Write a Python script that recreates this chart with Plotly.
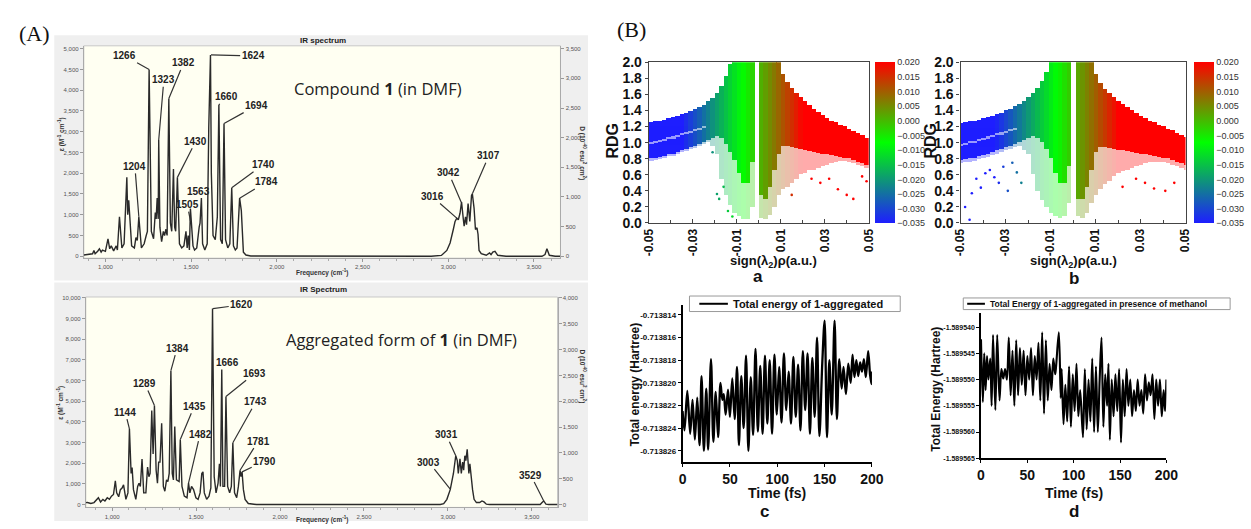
import plotly.graph_objects as go

W, H = 1251, 529
def px(x): return x / W
def py(y): return 1 - y / H

# ---------------- DATA ----------------
# IR spectrum of compound 1: (frequency cm-1, epsilon)
IR1_POINTS = [(874, 30), (900, 40), (925, 60), (933, 140), (940, 60), (955, 120), (965, 180), (975, 100),
    (983, 150), (1000, 120), (1015, 420), (1025, 180), (1034, 250), (1048, 130), (1063, 250), (1070, 150),
    (1082, 950), (1096, 200), (1109, 300), (1125, 1900), (1130, 1000), (1136, 1350), (1143, 950), (1153, 250),
    (1169, 200), (1178, 450), (1186, 380), (1195, 950), (1210, 200), (1226, 300), (1238, 500), (1245, 600),
    (1255, 4500), (1268, 600), (1281, 420), (1291, 1050), (1296, 900), (1302, 1400), (1308, 900), (1311, 2800),
    (1318, 700), (1328, 350), (1338, 600), (1345, 500), (1353, 650), (1360, 500), (1370, 3800), (1379, 800),
    (1387, 600), (1397, 2100), (1404, 700), (1410, 600), (1420, 1900), (1432, 300), (1445, 200), (1458, 250),
    (1470, 600), (1477, 200), (1483, 500), (1490, 150), (1496, 1150), (1504, 500), (1511, 250), (1520, 150),
    (1533, 200), (1547, 700), (1552, 800), (1560, 1400), (1567, 300), (1580, 150), (1594, 300), (1603, 3100),
    (1607, 3750), (1613, 4850), (1618, 2000), (1628, 500), (1641, 400), (1653, 950), (1662, 3650), (1672, 400),
    (1682, 300), (1692, 3200), (1701, 400), (1714, 200), (1726, 300), (1737, 1650), (1747, 250), (1758, 150),
    (1768, 200), (1783, 1400), (1793, 1100), (1805, 100), (1820, 30), (1848, 5), (2900, 0), (2960, 20),
    (2992, 140), (3011, 320), (3030, 650), (3040, 840), (3050, 919), (3059, 880), (3069, 1036), (3078, 1308),
    (3088, 900), (3093, 724), (3101, 950), (3107, 763), (3116, 1270), (3126, 841), (3136, 1464), (3141, 1503),
    (3151, 1152), (3159, 646), (3168, 685), (3174, 530), (3180, 140), (3193, 62), (3222, 23), (3241, 78),
    (3250, 40), (3260, 101), (3273, 120), (3289, 23), (3337, 0), (3547, 0), (3565, 40), (3576, 179),
    (3590, 23), (3624, 0), (3655, 0)]

# IR spectrum of aggregated form of 1
IR2_POINTS = [(843, 90), (853, 94), (873, 50), (892, 94), (918, 329), (931, 125), (945, 250), (957, 172),
    (971, 329), (984, 250), (996, 407), (1008, 485), (1019, 1150), (1027, 563), (1039, 376), (1049, 720),
    (1059, 798), (1068, 955), (1082, 250), (1094, 563), (1103, 3662), (1113, 1502), (1119, 1784), (1127, 720),
    (1141, 250), (1152, 876), (1160, 1033), (1168, 876), (1178, 2207), (1188, 563), (1201, 563), (1211, 1815),
    (1219, 1346), (1226, 1502), (1236, 4554), (1244, 2441), (1252, 4789), (1262, 1659), (1270, 1033),
    (1277, 2050), (1285, 2050), (1295, 3929), (1305, 876), (1314, 641), (1324, 1189), (1332, 1110),
    (1340, 1502), (1350, 6479), (1358, 1502), (1365, 1189), (1373, 3771), (1383, 1189), (1399, 1110),
    (1406, 3146), (1416, 876), (1430, 407), (1446, 329), (1455, 1033), (1463, 563), (1473, 876), (1485, 720),
    (1499, 329), (1512, 250), (1524, 563), (1534, 1502), (1541, 1580), (1549, 563), (1563, 250), (1577, 407),
    (1588, 798), (1598, 9484), (1608, 1346), (1619, 563), (1631, 1033), (1639, 1971), (1645, 876),
    (1653, 6542), (1660, 876), (1670, 876), (1678, 5227), (1688, 876), (1700, 563), (1710, 876), (1719, 2989),
    (1729, 563), (1742, 329), (1752, 876), (1762, 1659), (1768, 1346), (1774, 1580), (1782, 720), (1792, 250),
    (1811, 47), (1860, 0), (2955, 0), (2975, 40), (2994, 250), (3014, 720), (3033, 1502), (3047, 2363),
    (3056, 2128), (3062, 1502), (3072, 2207), (3080, 1502), (3088, 2050), (3094, 1659), (3101, 2363),
    (3107, 2128), (3115, 2676), (3125, 1502), (3131, 1971), (3137, 1346), (3147, 720), (3156, 250),
    (3170, 94), (3189, 94), (3203, 172), (3215, 125), (3229, 16), (3248, 0), (3550, 0), (3561, 94),
    (3571, 172), (3584, 16), (3600, 0), (3653, 0)]

# peak labels: (text, peak freq, peak eps, label freq, label eps)
IR1_LABELS = [("1266", 1255, 4500, 1111, 4829), ("1323", 1311, 2800, 1341, 4252),
    ("1382", 1370, 3800, 1456, 4657), ("1204", 1195, 950, 1172, 2166), ("1430", 1420, 1900, 1527, 2773),
    ("1563", 1560, 1400, 1546, 1560), ("1505", 1496, 850, 1478, 1245), ("1624", 1616, 4850, 1862, 4829),
    ("1660", 1662, 3650, 1709, 3839), ("1694", 1692, 3200, 1881, 3629), ("1740", 1737, 1650, 1920, 2204),
    ("1784", 1783, 1400, 1939, 1791), ("3016", 3050, 919, 2906, 1441), ("3042", 3076, 1300, 3002, 2009),
    ("3107", 3141, 1503, 3237, 2423)]
IR2_LABELS = [("1620", 1600, 9484, 1772, 9671), ("1384", 1350, 6479, 1387, 7574),
    ("1289", 1252, 4789, 1195, 5854), ("1144", 1103, 3662, 1078, 4474), ("1435", 1406, 3146, 1489, 4756),
    ("1482", 1455, 1033, 1524, 3413), ("1666", 1653, 6542, 1688, 6854), ("1693", 1678, 5227, 1850, 6354),
    ("1743", 1719, 2989, 1856, 4977), ("1781", 1762, 1659, 1870, 3067), ("1790", 1774, 1580, 1909, 2097),
    ("3003", 3014, 750, 2886, 2050), ("3031", 3047, 2363, 2990, 3380), ("3529", 3571, 172, 3493, 1424)]

# RDG scatter, panel a: x bins, dense band low/high, sparse lower limit
A_X = [-0.049, -0.047, -0.045, -0.043, -0.041, -0.039, -0.037, -0.035, -0.033, -0.031,
       -0.029, -0.027, -0.025, -0.023, -0.021, -0.019, -0.017, -0.015, -0.013, -0.011,
       -0.009, -0.007, -0.005, -0.003, -0.001, 0.001, 0.003, 0.005, 0.007, 0.009,
       0.011, 0.013, 0.015, 0.017, 0.019, 0.021, 0.023, 0.025, 0.027, 0.029,
       0.031, 0.033, 0.035, 0.037, 0.039, 0.041, 0.043, 0.045, 0.047, 0.049]
A_HI = [1.25, 1.26, 1.27, 1.28, 1.30, 1.31, 1.33, 1.35, 1.37, 1.39,
        1.41, 1.44, 1.47, 1.51, 1.55, 1.62, 1.70, 1.82, 1.97, 2.0,
        2.0, 2.0, 2.0, 2.0, None, 2.0, 2.0, 2.0, 2.0, 2.0,
        1.85, 1.75, 1.68, 1.62, 1.56, 1.51, 1.46, 1.42, 1.38, 1.34,
        1.30, 1.27, 1.25, 1.22, 1.20, 1.17, 1.14, 1.12, 1.09, 1.06]
A_LO = [0.80, 0.81, 0.82, 0.83, 0.85, 0.86, 0.88, 0.90, 0.92, 0.94,
        0.96, 0.98, 1.00, 1.03, 1.06, 1.08, 1.05, 0.98, 0.88, 0.78,
        0.62, 0.50, 0.50, 0.75, None, 0.35, 0.30, 0.45, 0.65, 0.85,
        0.95, 0.95, 0.94, 0.93, 0.92, 0.91, 0.89, 0.88, 0.87, 0.86,
        0.85, 0.84, 0.83, 0.82, 0.81, 0.80, 0.78, 0.76, 0.74, 0.72]
A_SP = [0.78, 0.79, 0.80, 0.81, 0.83, 0.84, 0.86, 0.88, 0.90, 0.92,
        0.94, 0.96, 0.98, 1.00, 0.95, 0.85, 0.55, 0.35, 0.22, 0.12,
        0.08, 0.05, 0.05, 0.20, None, 0.06, 0.05, 0.10, 0.20, 0.35,
        0.42, 0.45, 0.50, 0.55, 0.60, 0.62, 0.65, 0.66, 0.68, 0.70,
        0.72, 0.74, 0.76, 0.77, 0.77, 0.76, 0.74, 0.72, 0.70, 0.68]
A_STREAK_X = [-0.049, -0.047, -0.045, -0.043, -0.041, -0.039, -0.037, -0.035, -0.033, -0.031, -0.029, -0.027, -0.025]
A_STREAK_Y = [0.99, 1.00, 1.02, 1.03, 1.05, 1.06, 1.08, 1.10, 1.12, 1.13, 1.15, 1.17, 1.19]
A_OUT_X = [-0.021, -0.019, -0.018, -0.016, -0.014, -0.012, 0.015, 0.024, 0.028, 0.032, 0.036, 0.040, 0.043, 0.047, 0.049]
A_OUT_Y = [0.88, 0.36, 0.30, 0.45, 0.15, 0.08, 0.35, 0.55, 0.50, 0.55, 0.42, 0.35, 0.30, 0.58, 0.52]

# RDG scatter, panel b
B_X = [-0.050, -0.048, -0.046, -0.044, -0.042, -0.040, -0.038, -0.036, -0.034, -0.032,
       -0.030, -0.028, -0.026, -0.024, -0.022, -0.020, -0.018, -0.016, -0.014, -0.012,
       -0.010, -0.008, -0.006, -0.004, -0.002, 0.000, 0.002, 0.004, 0.006, 0.008,
       0.010, 0.012, 0.014, 0.016, 0.018, 0.020, 0.022, 0.024, 0.026, 0.028,
       0.030, 0.032, 0.034, 0.036, 0.038, 0.040, 0.042, 0.044, 0.046, 0.048, 0.050]
B_HI = [1.24, 1.25, 1.26, 1.27, 1.28, 1.30, 1.31, 1.33, 1.35, 1.37,
        1.40, 1.42, 1.45, 1.48, 1.52, 1.56, 1.62, 1.68, 1.76, 1.87,
        2.0, 2.0, 2.0, 2.0, 2.0, None, 2.0, 2.0, 2.0, 2.0,
        1.85, 1.74, 1.67, 1.62, 1.57, 1.52, 1.48, 1.44, 1.40, 1.36,
        1.33, 1.30, 1.27, 1.25, 1.22, 1.20, 1.17, 1.15, 1.12, 1.09, 1.07]
B_LO = [0.78, 0.79, 0.80, 0.81, 0.83, 0.84, 0.86, 0.88, 0.90, 0.92,
        0.94, 0.96, 0.98, 1.00, 1.03, 1.06, 1.08, 1.06, 1.00, 0.92,
        0.80, 0.62, 0.50, 0.50, 0.70, None, 0.30, 0.30, 0.45, 0.65,
        0.88, 0.94, 0.94, 0.93, 0.92, 0.91, 0.90, 0.89, 0.88, 0.87,
        0.86, 0.85, 0.84, 0.83, 0.82, 0.81, 0.80, 0.78, 0.76, 0.74, 0.72]
B_SP = [0.74, 0.75, 0.76, 0.77, 0.79, 0.80, 0.82, 0.84, 0.86, 0.88,
        0.90, 0.92, 0.94, 0.95, 0.90, 0.85, 0.60, 0.40, 0.28, 0.20,
        0.12, 0.08, 0.06, 0.08, 0.25, None, 0.08, 0.06, 0.12, 0.25,
        0.35, 0.42, 0.48, 0.52, 0.58, 0.62, 0.64, 0.66, 0.68, 0.70,
        0.72, 0.74, 0.75, 0.76, 0.76, 0.75, 0.74, 0.72, 0.70, 0.68, 0.66]
B_STREAK_X = [-0.050, -0.048, -0.046, -0.044, -0.042, -0.040, -0.038, -0.036, -0.034, -0.032, -0.030, -0.028, -0.026]
B_STREAK_Y = [0.97, 0.98, 1.00, 1.01, 1.03, 1.04, 1.06, 1.08, 1.10, 1.11, 1.13, 1.15, 1.17]
B_OUT_X = [-0.048, -0.046, -0.045, -0.043, -0.041, -0.039, -0.037, -0.035, -0.033, -0.031, -0.029, -0.027,
           -0.025, -0.023, 0.022, 0.028, 0.032, 0.036, 0.041, 0.045]
B_OUT_Y = [0.20, 0.04, 0.37, 0.55, 0.44, 0.62, 0.66, 0.57, 0.50, 0.70, 0.40, 0.75, 0.63, 0.50, 0.45, 0.55,
           0.50, 0.43, 0.40, 0.50]

# MD total energy, panel c (time fs, Hartree)
C_POINTS = [(0, -0.7138225), (2, -0.7138242), (5, -0.7138207), (8, -0.7138245), (10.5, -0.7138215),
    (13, -0.7138250), (15.5, -0.7138213), (18, -0.7138255), (20, -0.7138194), (22.5, -0.7138260),
    (25, -0.7138205), (27, -0.7138259), (30, -0.7138179), (32.5, -0.7138252), (35, -0.7138208),
    (37.5, -0.7138248), (40, -0.7138200), (42, -0.7138215), (43.5, -0.7138210), (45.5, -0.7138228),
    (48, -0.7138206), (50, -0.7138230), (52.5, -0.7138196), (55, -0.7138232), (57.5, -0.7138186),
    (59.5, -0.7138255), (62, -0.7138194), (64.5, -0.7138240), (67, -0.7138176), (69.5, -0.7138260),
    (72, -0.7138195), (74.5, -0.7138246), (77, -0.7138170), (79.5, -0.7138243), (82, -0.7138185),
    (84.5, -0.7138245), (87, -0.7138176), (89.5, -0.7138236), (92, -0.7138180), (94.5, -0.7138245),
    (97, -0.7138175), (99.5, -0.7138228), (102, -0.7138186), (104.5, -0.7138235), (107, -0.7138174),
    (109.5, -0.7138224), (112, -0.7138190), (114.5, -0.7138236), (117, -0.7138177), (119.5, -0.7138230),
    (122, -0.7138184), (124.5, -0.7138242), (127, -0.7138172), (129.5, -0.7138224), (132, -0.7138174),
    (134.5, -0.7138245), (137, -0.7138178), (139.5, -0.7138230), (142, -0.7138160), (144.5, -0.7138247),
    (147.5, -0.7138183), (150, -0.7138145), (152.5, -0.7138248), (155, -0.7138180), (157.5, -0.7138228),
    (160.5, -0.7138145), (163, -0.7138232), (165.5, -0.7138179), (168, -0.7138205), (170, -0.7138186),
    (172.5, -0.7138210), (175, -0.7138183), (177.5, -0.7138200), (179.5, -0.7138175), (181.5, -0.7138195),
    (183.5, -0.7138180), (185.5, -0.7138194), (187.5, -0.7138182), (189.5, -0.7138190), (191.5, -0.7138179),
    (193.5, -0.7138195), (196, -0.7138172), (198, -0.7138193), (199.5, -0.7138201), (200, -0.7138190)]

# MD total energy, panel d (time fs, Hartree)
D_POINTS = [(0, -1.5895423), (2, -1.5895543), (3.5, -1.5895450), (5, -1.5895520), (6.5, -1.5895455),
    (8, -1.5895500), (10, -1.5895460), (11.5, -1.5895550), (13, -1.5895415), (15.5, -1.5895558),
    (17.5, -1.5895415), (20, -1.5895540), (22, -1.5895480), (24, -1.5895498), (26, -1.5895480),
    (28, -1.5895500), (30, -1.5895420), (32, -1.5895530), (34, -1.5895445), (36, -1.5895550),
    (38, -1.5895425), (40, -1.5895530), (42, -1.5895440), (44, -1.5895510), (46, -1.5895445),
    (48, -1.5895530), (50, -1.5895455), (52, -1.5895500), (54, -1.5895440), (56, -1.5895530),
    (58, -1.5895455), (60, -1.5895500), (62, -1.5895430), (64, -1.5895540), (66, -1.5895410),
    (68, -1.5895565), (70, -1.5895425), (72, -1.5895540), (74, -1.5895470), (76, -1.5895520),
    (78, -1.5895460), (80, -1.5895490), (81, -1.5895475), (84, -1.5895410), (86, -1.5895535),
    (87, -1.5895480), (89, -1.5895585), (91, -1.5895510), (93, -1.5895580), (95, -1.5895475),
    (97, -1.5895590), (99, -1.5895490), (101, -1.5895560), (103, -1.5895470), (105, -1.5895570),
    (107, -1.5895520), (110, -1.5895610), (112, -1.5895480), (114, -1.5895595), (116, -1.5895500),
    (118, -1.5895580), (120, -1.5895460), (122, -1.5895600), (124, -1.5895475), (126, -1.5895600),
    (128, -1.5895500), (130, -1.5895420), (132, -1.5895590), (134, -1.5895490), (136, -1.5895550),
    (137.5, -1.5895470), (139, -1.5895615), (141, -1.5895500), (143, -1.5895570), (145, -1.5895490),
    (147, -1.5895560), (149, -1.5895480), (151, -1.5895620), (153, -1.5895500), (155, -1.5895570),
    (157, -1.5895480), (159, -1.5895550), (161, -1.5895500), (163, -1.5895570), (165, -1.5895520),
    (167, -1.5895560), (169, -1.5895500), (171, -1.5895550), (173, -1.5895520), (175, -1.5895565),
    (177, -1.5895490), (179, -1.5895540), (181, -1.5895505), (183, -1.5895530), (185, -1.5895490),
    (187, -1.5895575), (189, -1.5895500), (191, -1.5895550), (193, -1.5895500), (195, -1.5895570),
    (197, -1.5895520), (198.5, -1.5895560), (200, -1.5895500)]

C_NAME = "Total energy of 1-aggregated"
D_NAME = "Total Energy of 1-aggregated in presence of methanol"

IR_X_TICKS = [1000, 1500, 2000, 2500, 3000, 3500]
RDG_X_TICKS = [-0.05, -0.03, -0.01, 0.01, 0.03, 0.05]
RDG_X_TEXT = ["-0.05", "-0.03", "-0.01", "0.01", "0.03", "0.05"]
CB_TICKS = [-0.035, -0.030, -0.025, -0.020, -0.015, -0.010, -0.005, 0.0, 0.005, 0.010, 0.015, 0.020]
C_Y_TICKS = [-0.713814, -0.713816, -0.713818, -0.713820, -0.713822, -0.713824, -0.713826]
C_Y_TEXT = ["-0.713814", "-0.713816", "-0.713818", "-0.713820", "-0.713822", "-0.713824", "-0.713826"]
D_Y_TICKS = [-1.589540, -1.589545, -1.589550, -1.589555, -1.589560, -1.589565]
D_Y_TEXT = ["-1.589540", "-1.589545", "-1.589550", "-1.589555", "-1.589560", "-1.589565"]

# ---------------- FIGURE ----------------
ARIAL = "Liberation Sans, Arial, sans-serif"
NARROW = "Liberation Sans Narrow, Arial Narrow, Liberation Sans, sans-serif"
BGR = [[0, "#1e1eff"], [0.5, "#00ff00"], [1, "#ff0000"]]
CMIN, CMAX = -0.035, 0.020

fig = go.Figure()

def add_ir(points, xa, ya, ya2):
    f = [p[0] for p in points]
    e = [p[1] for p in points]
    fig.add_trace(go.Scatter(x=f, y=e, xaxis=xa, yaxis=ya, mode="lines",
                             line=dict(color="#2a2a2a", width=1.4), showlegend=False, hoverinfo="skip"))
    fig.add_trace(go.Scatter(x=[None], y=[None], xaxis=xa, yaxis=ya2, mode="lines",
                             showlegend=False, hoverinfo="skip"))

add_ir(IR1_POINTS, "x", "y", "y2")
add_ir(IR2_POINTS, "x2", "y3", "y4")

def add_rdg(xs, lo, hi, sp, sx, sy, ox, oy, xa, ya, cbx):
    dx, dlo, dh, sb, sh = [], [], [], [], []
    for x, l, h, s in zip(xs, lo, hi, sp):
        if h is None:
            continue
        dx.append(x); dlo.append(l); dh.append(h - l); sb.append(s); sh.append(l - s)
    mk = dict(color=dx, colorscale=BGR, cmin=CMIN, cmax=CMAX, line=dict(width=0))
    fig.add_trace(go.Bar(x=dx, y=sh, base=sb, width=0.0021, xaxis=xa, yaxis=ya, opacity=0.33,
                         marker=dict(mk, showscale=False), showlegend=False, hoverinfo="skip"))
    fig.add_trace(go.Bar(x=dx, y=dh, base=dlo, width=0.0021, xaxis=xa, yaxis=ya, opacity=1,
                         marker=dict(mk, showscale=True, colorbar=dict(
                             x=px(cbx), xanchor="left", y=py(139), yanchor="middle",
                             len=(222 - 56) / H, lenmode="fraction", thickness=20, thicknessmode="pixels",
                             outlinewidth=0, ticks="", tickvals=CB_TICKS, tickformat=".3f", xpad=0, ypad=0,
                             ticklabelposition="outside right",
                             tickfont=dict(family=NARROW, size=9, color="#333"))),
                         showlegend=False, hoverinfo="skip"))
    fig.add_trace(go.Bar(x=sx, y=[0.026] * len(sx), base=[v - 0.013 for v in sy], width=0.0021,
                         xaxis=xa, yaxis=ya, opacity=0.55, marker=dict(color="white", line=dict(width=0)),
                         showlegend=False, hoverinfo="skip"))
    fig.add_trace(go.Scatter(x=ox, y=oy, xaxis=xa, yaxis=ya, mode="markers",
                             marker=dict(size=2.6, color=ox, colorscale=BGR, cmin=CMIN, cmax=CMAX),
                             showlegend=False, hoverinfo="skip"))

add_rdg(A_X, A_LO, A_HI, A_SP, A_STREAK_X, A_STREAK_Y, A_OUT_X, A_OUT_Y, "x3", "y5", 881.7)
add_rdg(B_X, B_LO, B_HI, B_SP, B_STREAK_X, B_STREAK_Y, B_OUT_X, B_OUT_Y, "x4", "y6", 1205)

fig.add_trace(go.Scatter(x=[p[0] for p in C_POINTS], y=[p[1] for p in C_POINTS], xaxis="x5", yaxis="y7",
                         mode="lines", line=dict(color="black", width=2.3, shape="spline", smoothing=0.9),
                         name=C_NAME, showlegend=False, hoverinfo="skip"))
fig.add_trace(go.Scatter(x=[p[0] for p in D_POINTS], y=[p[1] for p in D_POINTS], xaxis="x6", yaxis="y8",
                         mode="lines", line=dict(color="black", width=2.1, shape="spline", smoothing=0.9),
                         name=D_NAME, showlegend=False, hoverinfo="skip"))

irtf = dict(family=ARIAL, size=6, color="#555")
def ir_x(dom, rng, anchor):
    return dict(domain=dom, range=rng, anchor=anchor, tickvals=IR_X_TICKS,
                ticktext=[f"{v:,}" for v in IR_X_TICKS], ticks="outside", ticklen=3, tickcolor="#999",
                showline=True, linecolor="#aaa", linewidth=1, showgrid=False, zeroline=False, tickfont=irtf,
                minor=dict(dtick=100, ticks="outside", ticklen=2, tickcolor="#aaa"))
def ir_y(dom, rng, anchor, dtick, side="left", overlay=None):
    d = dict(range=rng, anchor=anchor, dtick=dtick, tickformat=",d", ticks="outside", ticklen=3,
             tickcolor="#999", showline=True, linecolor="#aaa", linewidth=1, showgrid=False,
             zeroline=False, tickfont=irtf, side=side)
    if overlay:
        d["overlaying"] = overlay
    else:
        d["domain"] = dom
    return d

rdg_axis_common = dict(showline=True, mirror=True, linecolor="#444", linewidth=1.3, showgrid=False,
                       zeroline=False)
bold14 = dict(family=ARIAL, size=14, color="#111", weight="bold")
def rdg_x(dom, anchor):
    return dict(rdg_axis_common, domain=dom, range=[-0.05, 0.05], anchor=anchor, tickvals=RDG_X_TICKS,
                ticktext=RDG_X_TEXT, tickangle=-90, ticks="inside", ticklen=4, tickcolor="#444",
                tickfont=dict(family=ARIAL, size=12, color="#111", weight="bold"),
                minor=dict(dtick=0.01, tick0=0, ticks="inside", ticklen=3, tickcolor="#444"))
def rdg_y(dom, anchor):
    return dict(rdg_axis_common, domain=dom, range=[0, 2], anchor=anchor, dtick=0.2, tickformat=".1f",
                ticks="outside", ticklen=3, tickcolor="#444", tickfont=bold14)

def md_x(dom, anchor):
    return dict(domain=dom, range=[0, 200], anchor=anchor, dtick=50, ticks="outside", ticklen=3,
                tickcolor="black", showline=True, linecolor="black", linewidth=1.5, showgrid=False,
                zeroline=False, tickfont=dict(family=ARIAL, size=14, color="#111", weight="bold"))
def md_y(dom, rng, anchor, tv, tt, fs):
    return dict(domain=dom, range=rng, anchor=anchor, tickvals=tv, ticktext=tt, ticks="outside",
                ticklen=3, tickcolor="black", showline=True, linecolor="black", linewidth=1.5,
                showgrid=False, zeroline=False,
                tickfont=dict(family=ARIAL, size=fs, color="#111", weight="bold"))

ann = []
def txt(x, y, s, size, family=ARIAL, color="#111", angle=0, xanchor="center"):
    ann.append(dict(x=px(x), y=py(y), xref="paper", yref="paper", text=s, showarrow=False,
                    font=dict(family=family, size=size, color=color), textangle=angle,
                    xanchor=xanchor, yanchor="middle"))

def ir_labels(labels, xr, yr):
    for t, hf, he, tf, te in labels:
        ann.append(dict(x=hf, y=he, ax=tf, ay=te, xref=xr, yref=yr, axref=xr, ayref=yr,
                        text=f"<b>{t}</b>", showarrow=True, arrowhead=0, arrowwidth=1.2,
                        arrowcolor="#333", standoff=0,
                        font=dict(family=ARIAL, size=10, color="#222")))

ir_labels(IR1_LABELS, "x", "y")
ir_labels(IR2_LABELS, "x2", "y3")

txt(28, 26, "(A)", 22, family="Liberation Serif, Times New Roman, serif")
txt(634, 22, "(B)", 22, family="Liberation Serif, Times New Roman, serif")
txt(295, 34, "<b>IR spectrum</b>", 8, color="#222", xanchor="left")
txt(295, 290, "<b>IR Spectrum</b>", 8, color="#222", xanchor="left")
txt(377, 83, "Compound <b>1</b> (in DMF)", 16.5, family="Open Sans, sans-serif", color="#222")
txt(401, 342, "Aggregated form of <b>1</b> (in DMF)", 16.5, family="Open Sans, sans-serif", color="#222")
for yy in (130, 407):
    txt(55, yy, "<b>ε (M<sup>-1</sup> cm<sup>-1</sup>)</b>", 6.5, color="#333", angle=-90)
for yy in (150, 380):
    txt(584, yy, "<b>D (10<sup>-40</sup> esu<sup>2</sup> cm<sup>2</sup>)</b>", 6.5, color="#333", angle=90)
for yy in (273, 527):
    txt(320, yy, "<b>Frequency (cm<sup>-1</sup>)</b>", 6.5, color="#333")

txt(615, 137, "<b>RDG</b>", 16, angle=-90)
txt(938, 137, "<b>RDG</b>", 16, angle=-90)
txt(778, 261, "<b>sign(λ<sub>2</sub>)ρ(a.u.)</b>", 13)
txt(1083, 261, "<b>sign(λ<sub>2</sub>)ρ(a.u.)</b>", 13)
txt(763, 277, "<b>a</b>", 17)
txt(1083, 279, "<b>b</b>", 17)
txt(638, 388, "<b>Total energy (Hartree)</b>", 12, angle=-90)
txt(943, 393, "<b>Total Energy (Hartree)</b>", 12, angle=-90)
txt(782, 500, "<b>Time (fs)</b>", 14)
txt(1083, 500, "<b>Time (fs)</b>", 14)
txt(769, 519, "<b>c</b>", 17)
txt(1083, 519, "<b>d</b>", 17)

shapes = []
def rect(x0, y0, x1, y1, fill, line=None, layer="below"):
    shapes.append(dict(type="rect", xref="paper", yref="paper", x0=px(x0), x1=px(x1), y0=py(y1), y1=py(y0),
                       fillcolor=fill, line=dict(width=1 if line else 0, color=line or fill), layer=layer))
rect(48, 28, 590, 281, "#efefef")
rect(78, 39, 562, 258, "#fffff2", "#c8c8c8")
rect(48, 283, 590, 529, "#efefef")
rect(80, 298, 559, 515, "#fffff2", "#c8c8c8")

# legends of panels c and d
def legend_box(x0, y0, x1, y1, lx0, lx1, name, size):
    rect(x0, y0, x1, y1, "white", "#999", layer="above")
    ym = (y0 + y1) / 2
    shapes.append(dict(type="line", xref="paper", yref="paper", x0=px(lx0), x1=px(lx1), y0=py(ym), y1=py(ym),
                       line=dict(color="black", width=2), layer="above"))
    txt(lx1 + 3, ym, f"<b>{name}</b>", size, xanchor="left")

legend_box(693, 297, 907, 313, 703, 732, C_NAME, 11)
legend_box(971, 299, 1242, 311, 975, 993, D_NAME, 8.5)

fig.update_layout(
    width=W, height=H, margin=dict(l=0, r=0, t=0, b=0), paper_bgcolor="white", plot_bgcolor="rgba(0,0,0,0)",
    barmode="overlay", bargap=0, showlegend=False,
    xaxis=ir_x([px(78), px(562)], [874, 3655], "y"),
    yaxis=ir_y([py(258), py(39)], [-47, 5070], "x", 500),
    yaxis2=ir_y(None, [-32.9, 3549], "x", 500, side="right", overlay="y"),
    xaxis2=ir_x([px(80), px(559)], [843, 3653], "y3"),
    yaxis3=ir_y([py(515), py(298)], [-141, 10047], "x2", 1000),
    yaxis4=ir_y(None, [-56.4, 4018.8], "x2", 500, side="right", overlay="y3"),
    xaxis3=rdg_x([px(651.7), px(875)], "y5"),
    yaxis5=rdg_y([py(221.7), py(56)], "x3"),
    xaxis4=rdg_x([px(968.3), px(1196.7)], "y6"),
    yaxis6=rdg_y([py(221.7), py(56)], "x4"),
    xaxis5=md_x([px(686), px(878.3)], "y7"),
    yaxis7=md_y([py(468.3), py(306)], [-0.713827, -0.7138131], "x5", C_Y_TICKS, C_Y_TEXT, 8),
    xaxis6=md_x([px(989), px(1177.3)], "y8"),
    yaxis8=md_y([py(464.3), py(315)], [-1.589565, -1.5895374], "x6", D_Y_TICKS, D_Y_TEXT, 7),
    annotations=ann, shapes=shapes,
)

fig.write_html("out.html", config={"displayModeBar": False})
